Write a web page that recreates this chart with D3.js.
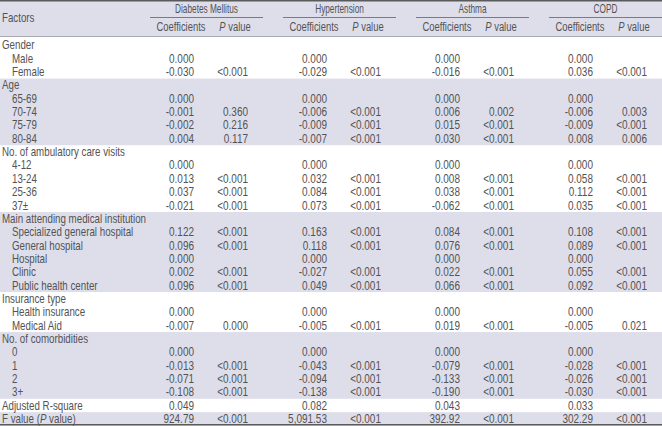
<!DOCTYPE html>
<html>
<head>
<meta charset="utf-8">
<script src="https://cdn.jsdelivr.net/npm/d3@7"></script>
<style>
  html, body { margin: 0; padding: 0; background: #fff; }
  svg { display: block; }
  text { font-family: "Liberation Sans", Arial, sans-serif; font-size: 12px; fill: #535353; }
</style>
</head>
<body>
<svg id="chart" width="662" height="426"></svg>
<script>
// Regression table: factors x diseases (coefficients + P values)
var DISEASES = ["Diabetes Mellitus", "Hypertension", "Asthma", "COPD"];

var SECTIONS = ["Gender", "Age", "No. of ambulatory care visits", "Main attending medical institution",
  "Insurance type", "No. of comorbidities", "Adjusted R-square", "F value (P value)"];
var LEVELS = [
  ["Male", "Female"],
  ["65-69", "70-74", "75-79", "80-84"],
  ["4-12", "13-24", "25-36", "37±"],
  ["Specialized general hospital", "General hospital", "Hospital", "Clinic", "Public health center"],
  ["Health insurance", "Medical Aid"],
  ["0", "1", "2", "3+"],
  [],
  []
];

// one entry per value row (level rows, then the two summary rows)
var DM_COEF = ["0.000", "-0.030", "0.000", "-0.001", "-0.002", "0.004", "0.000", "0.013", "0.037", "-0.021", "0.122", "0.096", "0.000", "0.002", "0.096", "0.000", "-0.007", "0.000", "-0.013", "-0.071", "-0.108", "0.049", "924.79"];
var DM_P    = ["", "<0.001", "", "0.360", "0.216", "0.117", "", "<0.001", "<0.001", "<0.001", "<0.001", "<0.001", "", "<0.001", "<0.001", "", "0.000", "", "<0.001", "<0.001", "<0.001", "", "<0.001"];
var HT_COEF = ["0.000", "-0.029", "0.000", "-0.006", "-0.009", "-0.007", "0.000", "0.032", "0.084", "0.073", "0.163", "0.118", "0.000", "-0.027", "0.049", "0.000", "-0.005", "0.000", "-0.043", "-0.094", "-0.138", "0.082", "5,091.53"];
var HT_P    = ["", "<0.001", "", "<0.001", "<0.001", "<0.001", "", "<0.001", "<0.001", "<0.001", "<0.001", "<0.001", "", "<0.001", "<0.001", "", "<0.001", "", "<0.001", "<0.001", "<0.001", "", "<0.001"];
var AS_COEF = ["0.000", "-0.016", "0.000", "0.006", "0.015", "0.030", "0.000", "0.008", "0.038", "-0.062", "0.084", "0.076", "0.000", "0.022", "0.066", "0.000", "0.019", "0.000", "-0.079", "-0.133", "-0.190", "0.043", "392.92"];
var AS_P    = ["", "<0.001", "", "0.002", "<0.001", "<0.001", "", "<0.001", "<0.001", "<0.001", "<0.001", "<0.001", "", "<0.001", "<0.001", "", "<0.001", "", "<0.001", "<0.001", "<0.001", "", "<0.001"];
var CO_COEF = ["0.000", "0.036", "0.000", "-0.006", "-0.009", "0.008", "0.000", "0.058", "0.112", "0.035", "0.108", "0.089", "0.000", "0.055", "0.092", "0.000", "-0.005", "0.000", "-0.028", "-0.026", "-0.030", "0.033", "302.29"];
var CO_P    = ["", "<0.001", "", "0.003", "<0.001", "0.006", "", "<0.001", "<0.001", "<0.001", "<0.001", "<0.001", "", "<0.001", "<0.001", "", "0.021", "", "<0.001", "<0.001", "<0.001", "", "<0.001"];

var COEF = [DM_COEF, HT_COEF, AS_COEF, CO_COEF];
var PVAL = [DM_P, HT_P, AS_P, CO_P];

(function () {
  var W = 662, H = 426, headH = 36, shade = "#dedeeb";
  var svg = d3.select("#chart");

  // no narrow face installed: squeeze Liberation Sans, calibrated on widths seen in the original
  function natural(s) {
    var t = svg.append("text").text(s), w = t.node().getComputedTextLength();
    t.remove(); return w;
  }
  var SX = {
    label: 123 / natural("No. of ambulatory care visits"),
    num: 25 / natural("0.000"),
    sub: 49 / natural("Coefficients"),
    group: 63 / natural("Diabetes Mellitus")
  };

  function txt(parent, x, y, kind, anchor) {
    return parent.append("text")
      .attr("transform", "translate(" + x + "," + y + ") scale(" + SX[kind] + ",1)")
      .attr("dy", "0.35em").attr("text-anchor", anchor || "start");
  }

  // flatten sections into table rows
  var rows = [], k = 0;
  SECTIONS.forEach(function (s, si) {
    if (LEVELS[si].length) {
      rows.push({ label: s, sec: si, head: true, v: null });
      LEVELS[si].forEach(function (l) { rows.push({ label: l, sec: si, head: false, v: k++ }); });
    } else {
      rows.push({ label: s, sec: si, head: true, v: k++ });
    }
  });

  var y = d3.scaleBand().domain(d3.range(rows.length)).range([38.5, H - 0.5]);
  var gx = d3.scaleBand().domain(DISEASES).range([150, W]).paddingInner(0.15);

  // shaded bands: header + every other section
  svg.append("rect").attr("x", 0).attr("y", 0).attr("width", W).attr("height", headH).attr("fill", shade);
  SECTIONS.forEach(function (s, si) {
    if (si % 2 === 0) return;
    var idx = rows.map(function (r, i) { return r.sec === si ? i : -1; }).filter(function (i) { return i >= 0; });
    var y0 = y(idx[0]), y1 = y(idx[idx.length - 1]) + y.bandwidth();
    svg.append("rect").attr("x", 0).attr("y", y0).attr("width", W).attr("height", y1 - y0).attr("fill", shade);
  });

  // rules
  svg.append("line").attr("x1", 0).attr("x2", W).attr("y1", 0.75).attr("y2", 0.75).attr("stroke", "#5a5a5a").attr("stroke-width", 1.5);
  svg.append("line").attr("x1", 0).attr("x2", W).attr("y1", headH + 0.5).attr("y2", headH + 0.5).attr("stroke", "#a8a8b0").attr("stroke-width", 1);
  svg.append("line").attr("x1", 0).attr("x2", W).attr("y1", H - 1.25).attr("y2", H - 1.25).attr("stroke", "#5a5a5a").attr("stroke-width", 1.5);

  // header
  txt(svg, 2, headH / 2, "label").text("Factors");
  DISEASES.forEach(function (d) {
    var x0 = gx(d);
    txt(svg, x0 + gx.bandwidth() / 2, 9, "group", "middle").text(d);
    svg.append("line").attr("x1", x0).attr("x2", x0 + gx.bandwidth())
      .attr("y1", 17.5).attr("y2", 17.5).attr("stroke", "#7a7a80").attr("stroke-width", 1);
    txt(svg, x0 + 31, 27, "sub", "middle").text("Coefficients");
    var ph = txt(svg, x0 + 85, 27, "sub", "middle");
    ph.append("tspan").style("font-style", "italic").text("P");
    ph.append("tspan").text(" value");
  });

  // body
  var body = svg.append("g");
  rows.forEach(function (r, i) {
    var cy = y(i) + y.bandwidth() / 2;
    var t = txt(body, r.head ? 2 : 12, cy, "label");
    if (r.label === "F value (P value)") {
      t.append("tspan").text("F value (");
      t.append("tspan").style("font-style", "italic").text("P");
      t.append("tspan").text(" value)");
    } else t.text(r.label);
    if (r.v == null) return;
    DISEASES.forEach(function (d, di) {
      txt(body, gx(d) + 44, cy, "num", "end").text(COEF[di][r.v]);
      txt(body, gx(d) + 98, cy, "num", "end").text(PVAL[di][r.v]);
    });
  });
})();
</script>
</body>
</html>
